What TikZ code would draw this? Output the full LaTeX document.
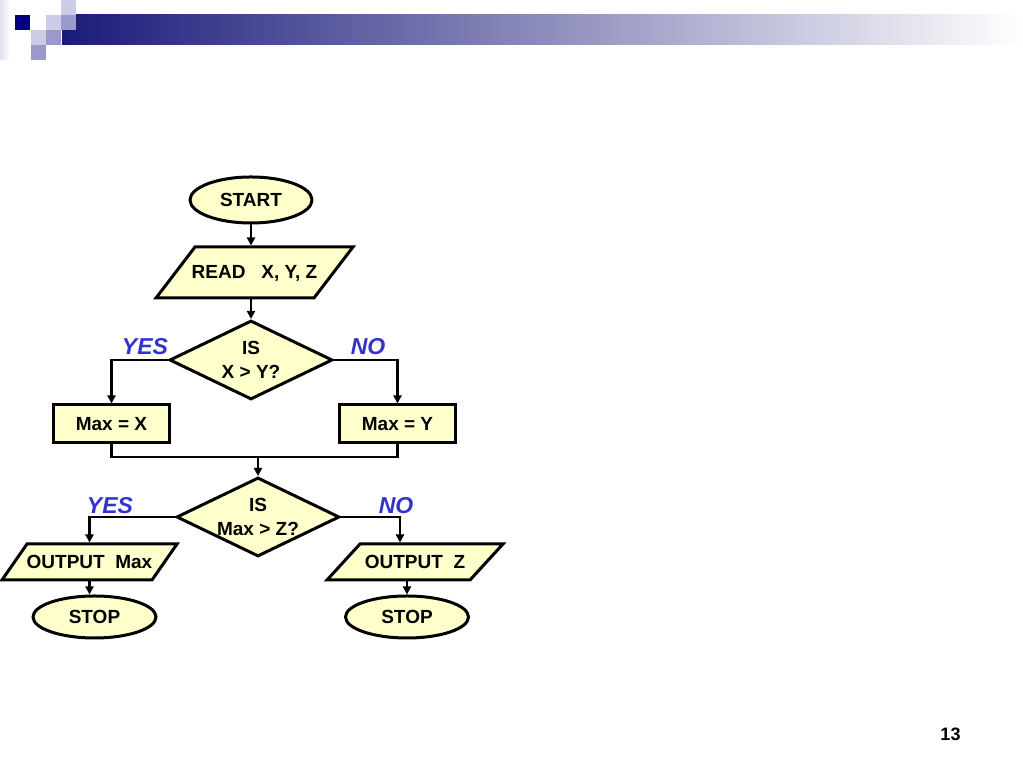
\documentclass[tikz,border=0pt]{standalone}
\usepackage{fontspec}
\setmainfont{Liberation Sans}
\usepackage{tikz}
\usetikzlibrary{arrows,arrows.meta,shapes,positioning}
\usepackage{xcolor}
\definecolor{dfnavy}{RGB}{26,26,122}
\definecolor{dfdark}{RGB}{0,0,128}
\definecolor{dflav}{RGB}{204,204,230}
\definecolor{dfmid}{RGB}{153,153,204}
\definecolor{dffaint}{RGB}{225,225,240}
\definecolor{dfcream}{RGB}{255,255,204}
\definecolor{dflabel}{RGB}{51,51,204}
\tikzstyle{arrow} = [line width=2.3pt,->,>={Triangle[length=8pt,width=8pt]}]
\tikzstyle{wire} = [line width=2.3pt]
\tikzstyle{terminal} = [ellipse, draw, line width=3pt, fill=dfcream, inner sep=0pt, minimum width=123pt, minimum height=42pt, font=\fontsize{19}{22}\selectfont\bfseries]
\tikzstyle{process} = [rectangle, draw, line width=3pt, fill=dfcream, inner sep=0pt, minimum width=116pt, minimum height=38pt, font=\fontsize{19}{22}\selectfont\bfseries]
\tikzstyle{io} = [trapezium, draw, line width=3pt, fill=dfcream, inner xsep=0pt, text height=14.5pt, text depth=1.5pt, font=\fontsize{19}{22}\selectfont\bfseries]
\tikzstyle{decision} = [diamond, aspect=2, draw, line width=3pt, fill=dfcream, inner sep=0pt, minimum width=163pt, minimum height=79pt, align=center, font=\fontsize{19}{24}\selectfont\bfseries]
\tikzstyle{answer} = [text=dflabel, font=\fontsize{23}{26}\selectfont\bfseries\itshape]

\begin{document}
\begin{tikzpicture}[x=1pt, y=1pt]
\useasboundingbox (0,0) rectangle (1023,767);
% Title bar and squares
\shade[left color=dffaint, right color=white] (0,707) rectangle (10,767);
\shade[left color=dfnavy, right color=white] (62,722) rectangle (1023,752);
\fill[dfdark] (15,737) rectangle (30,752);
\fill[dflav] (61,752) rectangle (76,767);
\fill[dflav] (46,737) rectangle (61,752);
\fill[dfmid] (61,737) rectangle (76,752);
\fill[dflav] (31,722) rectangle (46,737);
\fill[dfmid] (46,722) rectangle (61,737);
\fill[dfmid] (31,707) rectangle (46,722);

% Flowchart
\node[terminal, minimum width=122pt, minimum height=46pt] (start) at (251,567) {START};
\node[io, inner ysep=17.5pt, trapezium left angle=52.6, trapezium right angle=127.4] (read) at (254.5,494.5) {\makebox[119pt]{READ~~~X, Y, Z}};
\node[decision] (cmpxy) at (251,407) {IS\\X > Y?};
\node[process] (maxx) at (111.5,343) {Max = X};
\node[process] (maxy) at (397.5,343) {Max = Y};
\coordinate (join) at (258,310);
\node[decision] (cmpz) at (258,250) {IS\\Max > Z?};
\node[io, inner ysep=10pt, trapezium left angle=55.2, trapezium right angle=124.8] (outmax) at (89.5,205) {\makebox[125pt]{OUTPUT~~Max}};
\node[io, inner ysep=10pt, trapezium left angle=47.5, trapezium right angle=132.5] (outz) at (415,205) {\makebox[110pt]{OUTPUT~~Z}};
\node[terminal] (stopmax) at (94.5,150) {STOP};
\node[terminal] (stopz) at (407,150) {STOP};

% Labels
\node[answer] (yes1) at (145,420) {YES};
\node[answer] (no1) at (368,420) {NO};
\node[answer] (yes2) at (110,261) {YES};
\node[answer] (no2) at (396,261) {NO};

% Connectors
\draw[arrow] (start) -- (start |- read.north);
\draw[arrow] (read.south -| cmpxy) -- (cmpxy.north);
\draw[arrow] (cmpxy.west) -| (maxx.north);
\draw[arrow] (cmpxy.east) -| (maxy.north);
\draw[wire] (maxx.south) |- (join) -| (maxy.south);
\draw[arrow] (join) -- (cmpz.north);
\draw[arrow] (cmpz.west) -| (outmax.north);
\draw[arrow] (cmpz.east) -| ([xshift=-15pt]outz.north);
\draw[arrow] (outmax.south) -- (outmax.south |- stopmax.north);
\draw[arrow] ([xshift=-8pt]outz.south) -- (stopz.north);

\node[font=\fontsize{18}{20}\selectfont\bfseries] (pagenum) at (950.5,32.5) {13};
\end{tikzpicture}
\end{document}
